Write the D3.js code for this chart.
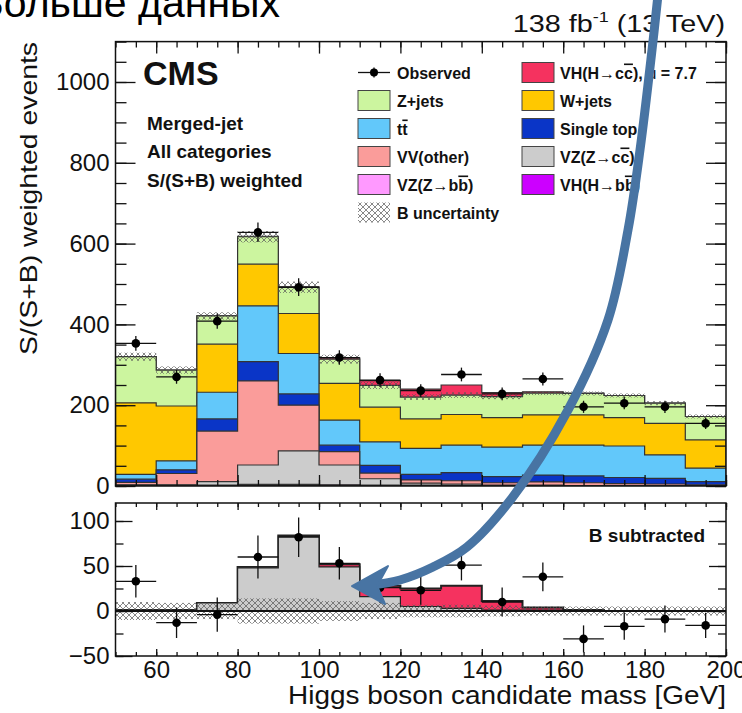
<!DOCTYPE html>
<html>
<head>
<meta charset="utf-8">
<script src="https://cdn.jsdelivr.net/npm/d3@7"></script>
<style>
body { margin: 0; background: #fff; }
svg { display: block; font-family: "Liberation Sans", Arial, sans-serif; }
</style>
</head>
<body>
<div id="chart"></div>
<script>
// bins (lower edge, GeV), 10 GeV wide
var bins = [50, 60, 70, 80, 90, 100, 110, 120, 130, 140, 150, 160, 170, 180, 190];
var binWidth = 10;

// stacked contributions, bottom to top
var vhbb      = [1, 1, 1, 2, 2, 2, 1, 1, 1, 1, 1, 1, 0, 0, 0];
var vzbb      = [1, 1, 1, 2, 2, 1, 1, 1, 1, 0, 0, 0, 0, 0, 0];
var vzcc      = [1, 1, 9, 48, 83, 49, 16, 5, 3, 1, 1, 0, 0, 0, 0];
var vvOther   = [6, 28, 125, 208, 113, 33, 14, 8, 8, 6, 8, 7, 6, 5, 3];
var singleTop = [8, 9, 30, 48, 28, 16, 19, 14, 20, 15, 17, 17, 15, 14, 8];
var ttbar     = [12, 22, 66, 138, 100, 62, 58, 64, 68, 73, 74, 76, 78, 58, 33];
var wjets     = [177, 136, 119, 103, 99, 91, 86, 73, 76, 73, 75, 75, 70, 78, 70];
var zjets     = [114, 89, 70, 68, 65, 60, 54, 54, 48, 52, 54, 53, 55, 50, 58];
var vhcc      = [0, 0, 0, 1, 1, 3, 12, 20, 25, 10, 3, 1, 0, 0, 0];

var observed    = [353, 270, 408, 628, 492, 318, 262, 236, 276, 228, 265, 196, 205, 196, 155];
var subObserved = [33, -13, -4, 60, 82, 53, 26, 23, 51, 10, 38, -31, -17, -9, -16];
var obsErr      = [18, 17, 19, 24, 22, 18, 17, 16, 17, 16, 16, 15, 15, 15, 14];
var bUnc        = [10, 9, 9, 14, 14, 11, 9, 7, 7, 6, 5, 5, 5, 5, 5];

var xTicksMajor = [60, 80, 100, 120, 140, 160, 180, 200];
var yTopTicks   = [0, 200, 400, 600, 800, 1000];
var yBotTicks   = [-50, 0, 50, 100];

var keys   = ["vhbb", "vzbb", "vzcc", "vv", "stop", "tt", "wjets", "zjets", "vhcc"];
var colors = {vhbb: "#cc00ff", vzbb: "#ff99ff", vzcc: "#cccccc", vv: "#fa9c9a",
              stop: "#0a35c7", tt: "#62c8fa", wjets: "#ffc800", zjets: "#ccf59f", vhcc: "#f5325f"};

var rows = bins.map(function(b, i) {
  return {bin: b, vhbb: vhbb[i], vzbb: vzbb[i], vzcc: vzcc[i], vv: vvOther[i], stop: singleTop[i],
          tt: ttbar[i], wjets: wjets[i], zjets: zjets[i], vhcc: vhcc[i]};
});

var svgWidth = 742, svgHeight = 713;
var svg = d3.select("#chart").append("svg")
    .attr("width", svgWidth)
    .attr("height", svgHeight);

var defs = svg.append("defs");
var pat = defs.append("pattern")
    .attr("id", "hatch")
    .attr("patternUnits", "userSpaceOnUse")
    .attr("width", 6).attr("height", 6);
pat.append("path")
    .attr("d", "M0,0 L6,6 M6,0 L0,6")
    .attr("stroke", "#555").attr("stroke-width", 0.7);

var x = d3.scaleLinear().domain([50, 200]).range([115.5, 726]);
var yTop = d3.scaleLinear().domain([0, 1100]).range([486, 41.6]);
var yBot = d3.scaleLinear().domain([-50, 120]).range([656, 503]);

defs.append("clipPath").attr("id", "clipTop").append("rect")
    .attr("x", x(50)).attr("y", yTop(1100)).attr("width", x(200) - x(50)).attr("height", yTop(0) - yTop(1100));
defs.append("clipPath").attr("id", "clipBot").append("rect")
    .attr("x", x(50)).attr("y", yBot(120)).attr("width", x(200) - x(50)).attr("height", yBot(-50) - yBot(120));

// step area from 0 up to a cumulative value
function stepPoints(vals) {
  var pts = bins.map(function(b, i) { return [b, vals[i]]; });
  pts.push([bins[bins.length - 1] + binWidth, vals[vals.length - 1]]);
  return pts;
}

// ---------- upper panel ----------
var gTop = svg.append("g").attr("clip-path", "url(#clipTop)");
var stack = d3.stack().keys(keys)(rows);

var areaTop = d3.area().curve(d3.curveStepAfter)
    .x(function(d) { return x(d[0]); })
    .y0(yTop(0))
    .y1(function(d) { return yTop(d[1]); });

stack.slice().reverse().forEach(function(layer) {
  var cum = layer.map(function(d) { return d[1]; });
  gTop.append("path")
      .attr("d", areaTop(stepPoints(cum)))
      .attr("fill", colors[layer.key])
      .attr("stroke", "#333")
      .attr("stroke-width", 1.2);
});

// B uncertainty band around Z+jets cumulative
var bTotal = stack[keys.indexOf("zjets")].map(function(d) { return d[1]; });
gTop.selectAll(".bandTop").data(bins).enter().append("rect")
    .attr("x", function(b) { return x(b); })
    .attr("width", function(b) { return x(b + binWidth) - x(b); })
    .attr("y", function(b, i) { return yTop(bTotal[i] + bUnc[i]); })
    .attr("height", function(b, i) { return yTop(bTotal[i] - bUnc[i]) - yTop(bTotal[i] + bUnc[i]); })
    .attr("fill", "url(#hatch)");

function drawPoints(g, yScale, vals) {
  var p = g.selectAll(null).data(bins).enter().append("g");
  p.append("line")
      .attr("x1", function(b) { return x(b); })
      .attr("x2", function(b) { return x(b + binWidth); })
      .attr("y1", function(b, i) { return yScale(vals[i]); })
      .attr("y2", function(b, i) { return yScale(vals[i]); })
      .attr("stroke", "#111").attr("stroke-width", 1.3);
  p.append("line")
      .attr("x1", function(b) { return x(b + binWidth / 2); })
      .attr("x2", function(b) { return x(b + binWidth / 2); })
      .attr("y1", function(b, i) { return yScale(vals[i] - obsErr[i]); })
      .attr("y2", function(b, i) { return yScale(vals[i] + obsErr[i]); })
      .attr("stroke", "#111").attr("stroke-width", 1.3);
  p.append("circle")
      .attr("cx", function(b) { return x(b + binWidth / 2); })
      .attr("cy", function(b, i) { return yScale(vals[i]); })
      .attr("r", 4.3)
      .attr("fill", "#000");
}
drawPoints(gTop, yTop, observed);

// ---------- lower panel ----------
var gBot = svg.append("g").attr("clip-path", "url(#clipBot)");
var sigRows = bins.map(function(b, i) { return {vzcc: vzcc[i], vhcc: vhcc[i]}; });
var sigStack = d3.stack().keys(["vzcc", "vhcc"])(sigRows);
var areaBot = d3.area().curve(d3.curveStepAfter)
    .x(function(d) { return x(d[0]); })
    .y0(yBot(0))
    .y1(function(d) { return yBot(d[1]); });

sigStack.slice().reverse().forEach(function(layer, k) {
  var cum = layer.map(function(d) { return d[1]; });
  gBot.append("path")
      .attr("d", areaBot(stepPoints(cum)))
      .attr("fill", colors[layer.key])
      .attr("stroke", "#222")
      .attr("stroke-width", k === 0 ? 2 : 1.2);
});

gBot.selectAll(".bandBot").data(bins).enter().append("rect")
    .attr("x", function(b) { return x(b); })
    .attr("width", function(b) { return x(b + binWidth) - x(b); })
    .attr("y", function(b, i) { return yBot(bUnc[i]); })
    .attr("height", function(b, i) { return yBot(-bUnc[i]) - yBot(bUnc[i]); })
    .attr("fill", "url(#hatch)");

gBot.append("line")
    .attr("x1", x(50)).attr("x2", x(200))
    .attr("y1", yBot(0)).attr("y2", yBot(0))
    .attr("stroke", "#111").attr("stroke-width", 2);

drawPoints(gBot, yBot, subObserved);

// ---------- frames and axes ----------
function frame(y0, y1) {
  svg.append("rect")
      .attr("x", x(50)).attr("y", y0)
      .attr("width", x(200) - x(50)).attr("height", y1 - y0)
      .attr("fill", "none").attr("stroke", "#111").attr("stroke-width", 1.5);
}
frame(yTop(1100), yTop(0));
frame(yBot(120), yBot(-50));

function ticks(axisFn, scale, values, size, transform) {
  var g = svg.append("g").attr("transform", transform)
      .call(axisFn(scale).tickValues(values).tickSize(-size).tickFormat(""));
  g.select(".domain").remove();
  g.selectAll(".tick line").attr("stroke", "#111").attr("stroke-width", 1.3);
  return g;
}

function styleAxis(g) {
  g.select(".domain").remove();
  g.selectAll(".tick line").attr("stroke", "#111").attr("stroke-width", 1.3);
  g.selectAll("text").attr("font-size", 24).attr("font-family", "Liberation Sans, Arial, sans-serif").attr("fill", "#111");
}

var xMinor = bins.concat([200]).concat(bins.map(function(b) { return b + 5; }));

// upper panel ticks
ticks(d3.axisBottom, x, xMinor, 6, "translate(0," + yTop(0) + ")");
ticks(d3.axisBottom, x, xTicksMajor, 11, "translate(0," + yTop(0) + ")");
ticks(d3.axisTop, x, xMinor, 6, "translate(0," + yTop(1100) + ")");
ticks(d3.axisTop, x, xTicksMajor, 12, "translate(0," + yTop(1100) + ")");
var yTopMinor = d3.range(0, 1101, 50);
ticks(d3.axisLeft, yTop, yTopMinor, 11, "translate(" + x(50) + ",0)");
ticks(d3.axisRight, yTop, yTopMinor, 11, "translate(" + x(200) + ",0)");
ticks(d3.axisRight, yTop, yTopTicks, 20, "translate(" + x(200) + ",0)");

var yAxTop = svg.append("g").attr("transform", "translate(" + x(50) + ",0)")
    .call(d3.axisLeft(yTop).tickValues(yTopTicks).tickSize(-20).tickPadding(6).tickFormat(d3.format("d")));
styleAxis(yAxTop);

// lower panel ticks
ticks(d3.axisTop, x, xMinor, 4, "translate(0," + yBot(120) + ")");
ticks(d3.axisTop, x, xTicksMajor, 7, "translate(0," + yBot(120) + ")");
ticks(d3.axisBottom, x, xMinor, 4, "translate(0," + yBot(-50) + ")");
var yBotMinor = [-50, -25, 0, 25, 50, 75, 100];
ticks(d3.axisLeft, yBot, yBotMinor, 8, "translate(" + x(50) + ",0)");
ticks(d3.axisRight, yBot, yBotMinor, 8, "translate(" + x(200) + ",0)");
ticks(d3.axisRight, yBot, yBotTicks, 17, "translate(" + x(200) + ",0)");

var yAxBot = svg.append("g").attr("transform", "translate(" + x(50) + ",0)")
    .call(d3.axisLeft(yBot).tickValues(yBotTicks).tickSize(-17).tickPadding(6)
      .tickFormat(function(d) { return d < 0 ? "\u2212" + (-d) : d; }));
styleAxis(yAxBot);

var xAx = svg.append("g").attr("transform", "translate(0," + yBot(-50) + ")")
    .call(d3.axisBottom(x).tickValues(xTicksMajor).tickSize(-7).tickPadding(5));
styleAxis(xAx);

// ---------- texts ----------
svg.append("text")
    .attr("x", 288).attr("y", 704)
    .attr("textLength", 438).attr("lengthAdjust", "spacingAndGlyphs")
    .attr("font-size", 25).attr("fill", "#111")
    .text("Higgs boson candidate mass [GeV]");

svg.append("text")
    .attr("transform", "translate(37,355) rotate(-90)")
    .attr("textLength", 313).attr("lengthAdjust", "spacingAndGlyphs")
    .attr("font-size", 24).attr("fill", "#111")
    .text("S/(S+B) weighted events");

var lumi = svg.append("text")
    .attr("x", 725).attr("y", 32)
    .attr("text-anchor", "end")
    .attr("font-size", 24).attr("fill", "#111")
    .attr("transform", "translate(725,0) scale(1.2,1) translate(-725,0)");
lumi.append("tspan").text("138 fb");
lumi.append("tspan").attr("font-size", 15).attr("dy", -10).text("-1");
lumi.append("tspan").attr("dy", 10).text(" (13 TeV)");

svg.append("text")
    .attr("x", 143).attr("y", 85)
    .attr("font-size", 34).attr("font-weight", "bold").attr("fill", "#111")
    .text("CMS");

["Merged-jet", "All categories", "S/(S+B) weighted"].forEach(function(t, i) {
  svg.append("text")
      .attr("x", 147).attr("y", 130 + i * 28.3)
      .attr("font-size", 19).attr("font-weight", "bold").attr("fill", "#111")
      .text(t);
});

svg.append("text")
    .attr("x", 705).attr("y", 542)
    .attr("text-anchor", "end")
    .attr("font-size", 19).attr("font-weight", "bold").attr("fill", "#111")
    .text("B subtracted");

// ---------- legend ----------
var legendCol1 = [
  {type: "obs", label: [["Observed"]]},
  {type: "box", key: "zjets", label: [["Z+jets"]]},
  {type: "box", key: "tt", label: [["t"], ["t", 1]]},
  {type: "box", key: "vv", label: [["VV(other)"]]},
  {type: "box", key: "vzbb", label: [["VZ(Z\u2192b"], ["b", 1], [")"]]},
  {type: "hatch", label: [["B uncertainty"]]}
];
var legendCol2 = [
  {type: "box", key: "vhcc", label: [["VH(H\u2192c"], ["c", 1], ["), "], ["\u03bc", 2], [" = 7.7"]]},
  {type: "box", key: "wjets", label: [["W+jets"]]},
  {type: "box", key: "stop", label: [["Single top"]]},
  {type: "box", key: "vzcc", label: [["VZ(Z\u2192c"], ["c", 1], [")"]]},
  {type: "box", key: "vhbb", label: [["VH(H\u2192b"], ["b", 1], [")"]]}
];

function legend(entries, bx, tx) {
  entries.forEach(function(e, i) {
    var cy = 72.5 + i * 28;
    if (e.type === "obs") {
      svg.append("line").attr("x1", bx).attr("x2", bx + 32).attr("y1", cy).attr("y2", cy)
          .attr("stroke", "#111").attr("stroke-width", 1.3);
      svg.append("line").attr("x1", bx + 16).attr("x2", bx + 16).attr("y1", cy - 5).attr("y2", cy + 5)
          .attr("stroke", "#111").attr("stroke-width", 1.3);
      svg.append("circle").attr("cx", bx + 16).attr("cy", cy).attr("r", 4).attr("fill", "#000");
    } else if (e.type === "hatch") {
      svg.append("rect").attr("x", bx).attr("y", cy - 10).attr("width", 32).attr("height", 20)
          .attr("fill", "url(#hatch)");
    } else {
      svg.append("rect").attr("x", bx).attr("y", cy - 10).attr("width", 32).attr("height", 20)
          .attr("fill", colors[e.key]).attr("stroke", "#444").attr("stroke-width", 1);
    }
    var t = svg.append("text").attr("x", tx).attr("y", cy + 6)
        .attr("font-size", 16).attr("font-weight", "bold").attr("fill", "#111");
    e.label.forEach(function(seg) {
      var s = t.append("tspan").text(seg[0]);
      if (seg[1] === 1) s.style("text-decoration", "overline");
      if (seg[1] === 2) s.attr("font-weight", "normal");
    });
  });
}
legend(legendCol1, 358, 397);
legend(legendCol2, 522, 560);

// ---------- slide overlay: title and arrow ----------
svg.append("text")
    .attr("x", 280).attr("y", 17)
    .attr("text-anchor", "end")
    .attr("font-size", 41).attr("fill", "#000")
    .text("Больше данных");

var arrowPts = [[658, -5], [652, 50], [640, 150], [628, 230], [608, 320], [568, 410],
                [512, 498], [467, 547], [433, 567], [400, 580], [372, 585]];
svg.append("path")
    .attr("d", d3.line().curve(d3.curveCatmullRom)(arrowPts))
    .attr("fill", "none")
    .attr("stroke", "#4874a3")
    .attr("stroke-width", 9)
    .attr("stroke-linecap", "round");
svg.append("path")
    .attr("d", "M352,586 L388,566 L377,586 L385,604 Z")
    .attr("fill", "#4874a3")
    .attr("stroke", "#4874a3")
    .attr("stroke-width", 2)
    .attr("stroke-linejoin", "round");
</script>
</body>
</html>
